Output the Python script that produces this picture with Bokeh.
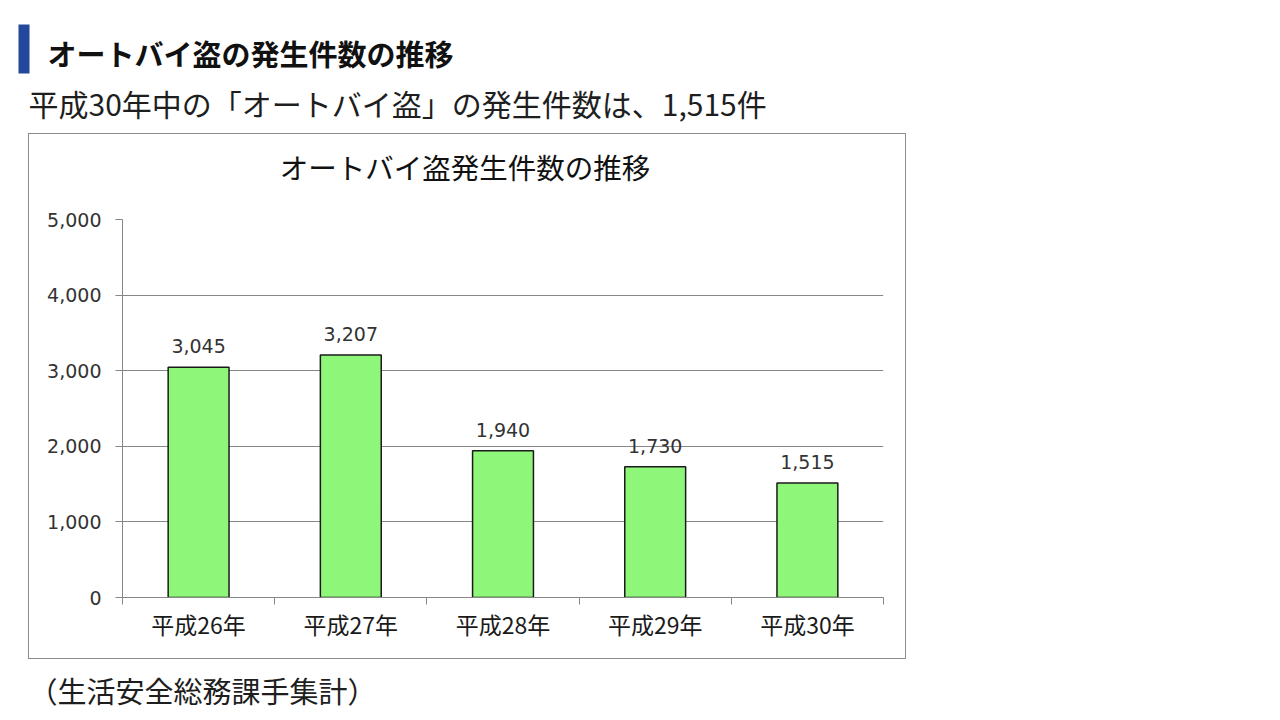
from bokeh.plotting import figure
from bokeh.models import Range1d, FixedTicker, NumeralTickFormatter, Spacer, ColumnDataSource
from bokeh.layouts import column, row
from bokeh.core.properties import value
from bokeh.embed import file_html
from bokeh.resources import INLINE

# ---- data ----
page_heading = "オートバイ盗の発生件数の推移"
summary_text = "平成30年中の「オートバイ盗」の発生件数は、1,515件"
chart_title = "オートバイ盗発生件数の推移"
source_note = "（生活安全総務課手集計）"
years = ["平成26年", "平成27年", "平成28年", "平成29年", "平成30年"]
counts = [3045, 3207, 1940, 1730, 1515]
y_ticks = [0, 1000, 2000, 3000, 4000, 5000]

JP = "Noto Sans CJK JP"
NUM = "DejaVu Sans"
GRID = "#878787"
BOX = "1px solid #8c8c8c"


def blank(fig):
    fig.grid.visible = False
    fig.outline_line_color = None
    return fig


# ---- page header ----
header = blank(figure(width=1272, height=133, x_range=Range1d(0, 1272), y_range=Range1d(133, 0),
                      output_backend="svg", toolbar_location=None, min_border=0,
                      x_axis_location=None, y_axis_location=None))
header.quad(left=[18], right=[29], top=[24], bottom=[73], fill_color="#24499c", line_color=None)
header.text(x=[47], y=[52], text=[page_heading], text_font=value(JP), text_font_style="bold",
            text_font_size="29px", text_baseline="middle", text_color="#111111")
header.text(x=[28], y=[102], text=[summary_text], text_font=value(JP),
            text_font_size="30px", text_baseline="middle", text_color="#1e1e1e")

# ---- chart title strip (top part of the chart box) ----
title_fig = blank(figure(width=878, height=60, x_range=Range1d(0, 1), y_range=Range1d(0, 1),
                         output_backend="svg", toolbar_location=None, min_border=0,
                         x_axis_location=None, y_axis_location=None,
                         styles={"border": BOX, "border-bottom": "none"}))
title_fig.text(x=[0.496], y=[0.465], text=[chart_title], text_font=value(JP), text_font_size="28.5px",
               text_align="center", text_baseline="middle", text_color="#111111")

# ---- chart ----
positions = [i + 1 for i in range(len(years))]
boundaries = [i + 0.5 for i in range(len(years) + 1)]
src = ColumnDataSource(dict(x=positions, count=counts, label=[f"{c:,}" for c in counts]))

chart = figure(width=878, height=466, x_range=Range1d(0.5, len(years) + 0.5), y_range=Range1d(0, 5000),
               output_backend="svg", toolbar_location=None,
               min_border_left=93, min_border_right=24, min_border_top=26, min_border_bottom=62,
               styles={"border": BOX, "border-top": "none"})
chart.outline_line_color = None

chart.vbar(x="x", top="count", bottom=0, width=0.4, source=src,
           fill_color="#8ef779", line_color="#1a1a1a", line_width=1.5)
chart.text(x="x", y="count", text="label", source=src, text_align="center", text_baseline="bottom",
           y_offset=-14, text_font=value(NUM), text_font_size="19px", text_color="#333333")

chart.xgrid.visible = False
chart.ygrid.ticker = FixedTicker(ticks=y_ticks)
chart.ygrid.grid_line_color = GRID
chart.ygrid.grid_line_width = 1

xa = chart.xaxis[0]
xa.ticker = FixedTicker(ticks=positions, minor_ticks=boundaries)
xa.major_label_overrides = {p: y for p, y in zip(positions, years)}
xa.major_tick_out = 0
xa.major_tick_in = 0
xa.minor_tick_out = 7
xa.minor_tick_in = 0
xa.minor_tick_line_color = GRID
xa.axis_line_color = GRID
xa.major_label_text_font = JP
xa.major_label_text_font_size = "23px"
xa.major_label_text_color = "#1a1a1a"
xa.major_label_standoff = 2

ya = chart.yaxis[0]
ya.ticker = FixedTicker(ticks=y_ticks, minor_ticks=[])
ya.formatter = NumeralTickFormatter(format="0,0")
ya.major_tick_out = 7
ya.major_tick_in = 0
ya.minor_tick_out = 0
ya.minor_tick_in = 0
ya.major_tick_line_color = GRID
ya.axis_line_color = GRID
ya.major_label_text_font = NUM
ya.major_label_text_font_size = "19px"
ya.major_label_text_color = "#333333"
ya.major_label_standoff = 14

# ---- footer ----
footer = blank(figure(width=1272, height=53, x_range=Range1d(0, 1272), y_range=Range1d(712, 659),
                      output_backend="svg", toolbar_location=None, min_border=0,
                      x_axis_location=None, y_axis_location=None))
footer.text(x=[28], y=[689], text=[source_note], text_font=value(JP),
            text_font_size="29px", text_baseline="middle", text_color="#1e1e1e")

page = column(header,
              row(Spacer(width=28, height=60), title_fig),
              row(Spacer(width=28, height=466), chart),
              footer)

open("out.html", "w").write(file_html(page, INLINE))
